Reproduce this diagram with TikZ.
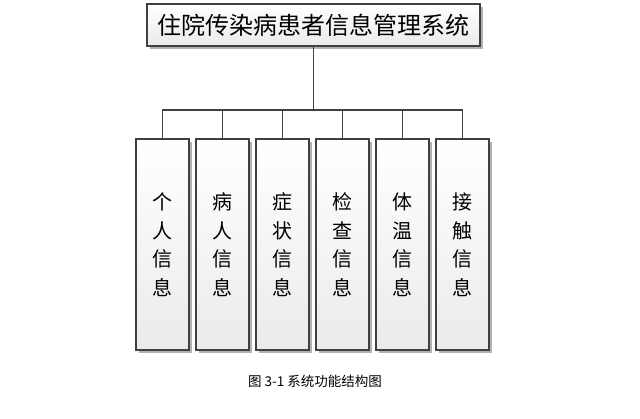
\documentclass[tikz,border=0pt]{standalone}
\usepackage{fontspec}
\newfontfamily\cjk{Noto Sans CJK SC}
\usetikzlibrary{shadows}

\begin{document}
\begin{tikzpicture}[x=1pt, y=-1pt,
  box/.style={draw=black!75, line width=1.2pt, top color=white, bottom color=black!8,
    drop shadow={shadow xshift=2.5pt, shadow yshift=-2.5pt, fill=black!30, opacity=1}},
  item/.style={box, minimum width=53pt, minimum height=211pt, align=center,
    font=\cjk\fontsize{20}{28.5}\selectfont},
  link/.style={draw=black!75, line width=1.2pt}]
\useasboundingbox (0,0) rectangle (640,418); % page size

% top box
\node[box, minimum width=333pt, minimum height=42pt, font=\cjk\fontsize{24}{24}\selectfont] (sys) at (313.5,25) {住院传染病患者信息管理系统};
\coordinate (bus) at (313.5,110);
\draw[link] (sys.south) -- (bus);

% modules
\foreach \nm/\fa/\fb [count=\i from 0] in {geren/个/人, bingren/病/人, zhengzhuang/症/状, jiancha/检/查, tiwen/体/温, jiechu/接/触}
{
  \node[item] (\nm) at (162.5+60*\i,244.5) {\fa\\\fb\\信\\息};
  \draw[link] (bus) -| (\nm.north);
}

% caption
\node[font=\cjk\fontsize{13.5}{13.5}\selectfont] (caption) at (315,381) {图 3-1 系统功能结构图};
\end{tikzpicture}
\end{document}
